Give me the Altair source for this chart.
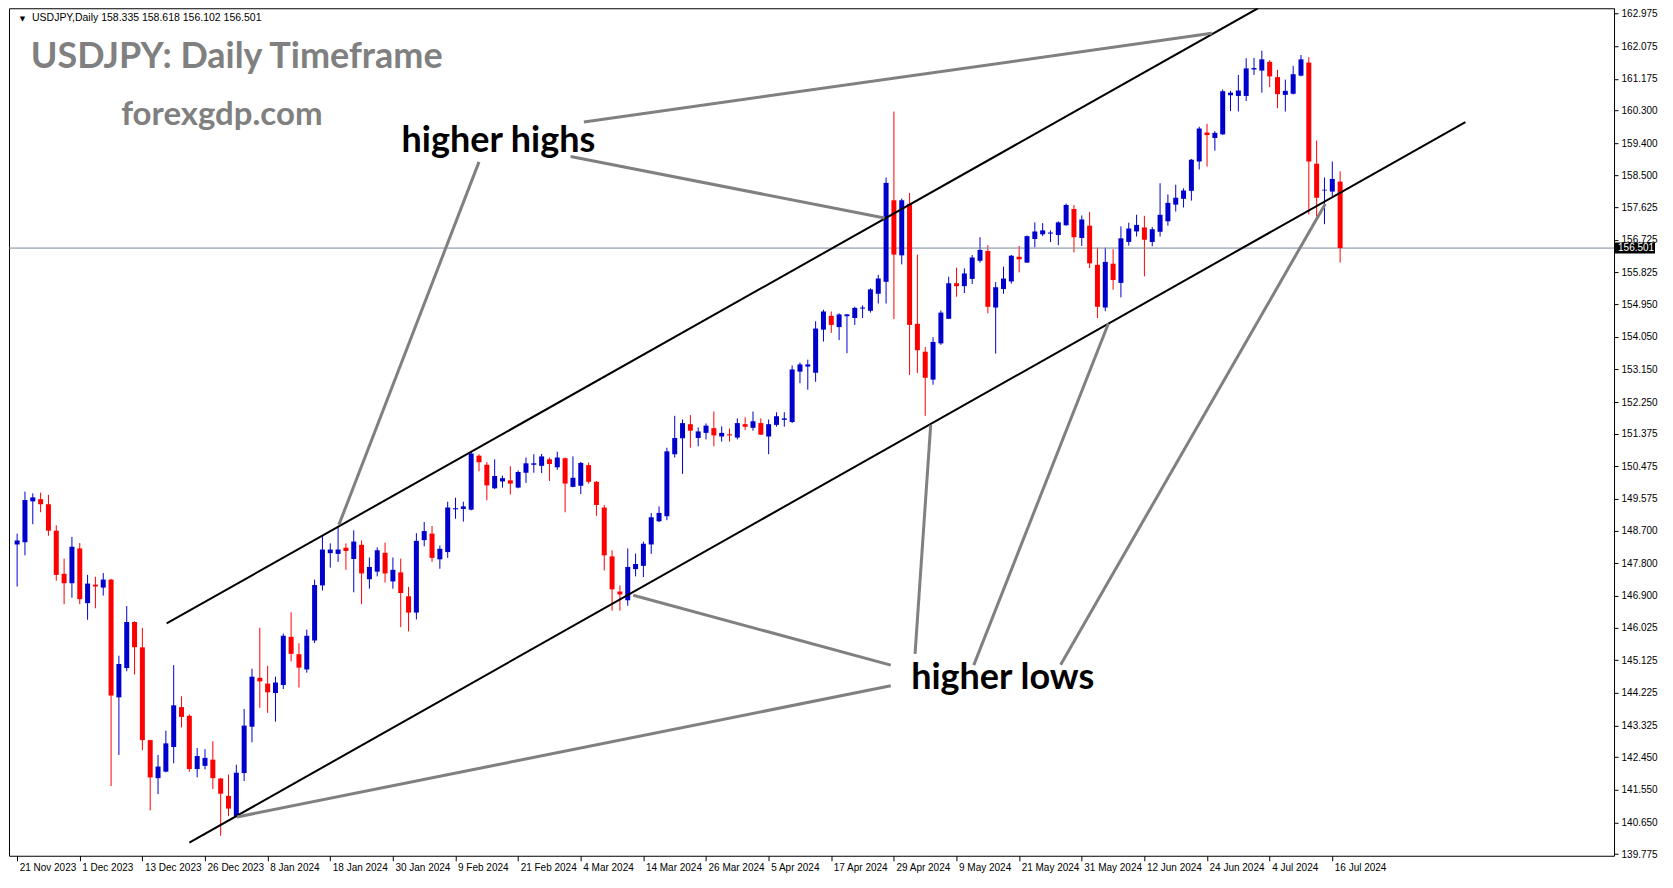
import altair as alt
import pandas as pd

# ---------------- data ----------------
tick_labels = ["21 Nov 2023", "1 Dec 2023", "13 Dec 2023", "26 Dec 2023", "8 Jan 2024",
               "18 Jan 2024", "30 Jan 2024", "9 Feb 2024", "21 Feb 2024", "4 Mar 2024",
               "14 Mar 2024", "26 Mar 2024", "5 Apr 2024", "17 Apr 2024", "29 Apr 2024",
               "9 May 2024", "21 May 2024", "31 May 2024", "12 Jun 2024", "24 Jun 2024",
               "4 Jul 2024", "16 Jul 2024"]
price_ticks = [162.975, 162.075, 161.175, 160.300, 159.400, 158.500, 157.625, 156.725,
               155.825, 154.950, 154.050, 153.150, 152.250, 151.375, 150.475, 149.575,
               148.700, 147.800, 146.900, 146.025, 145.125, 144.225, 143.325, 142.450,
               141.550, 140.650, 139.775]

opens = [148.32, 148.38, 149.51, 149.57, 149.43, 148.70, 147.51, 147.25, 148.21, 146.70,
         147.21, 147.13, 147.35, 144.10, 144.91, 146.18, 145.48, 142.92, 141.87, 142.05,
         142.73, 143.83, 143.59, 142.12, 142.21, 142.38, 141.86, 141.38, 140.82, 142.01,
         143.29, 144.64, 144.48, 144.22, 144.44, 145.77, 145.29, 144.87, 145.67, 147.19,
         148.08, 148.06, 148.23, 147.92, 148.31, 147.36, 147.57, 148.09, 147.30, 147.55,
         146.89, 146.44, 148.44, 148.62, 147.91, 148.11, 149.29, 149.30, 149.28, 150.77,
         150.52, 149.87, 150.06, 150.09, 149.89, 150.30, 150.52, 150.49, 150.67, 150.45,
         150.70, 149.91, 149.94, 150.51, 150.05, 149.34, 147.99, 147.02, 146.78, 147.64,
         147.73, 148.32, 148.96, 149.10, 150.81, 151.25, 151.64, 151.26, 151.40, 151.53,
         151.30, 151.36, 151.27, 151.64, 151.54, 151.67, 151.30, 151.62, 151.76, 151.70,
         153.09, 153.23, 153.06, 154.25, 154.63, 154.32, 154.62, 154.57, 154.83, 154.77,
         155.24, 155.57, 157.82, 156.30, 157.72, 154.41, 153.64, 152.87, 153.87, 154.55,
         155.53, 155.45, 155.65, 156.15, 156.42, 154.86, 155.37, 155.58, 156.26, 156.10,
         156.75, 156.88, 156.90, 156.86, 157.13, 157.58, 156.78, 157.12, 156.04, 154.86,
         156.07, 155.54, 156.67, 156.96, 157.07, 156.67, 156.95, 157.24, 157.70, 157.86,
         158.08, 158.89, 159.69, 159.54, 159.64, 160.72, 160.70, 160.70, 161.43, 161.40,
         161.64, 161.22, 160.73, 160.76, 161.26, 161.62, 158.83, 158.09, 158.06, 158.335]
highs = [148.62, 149.78, 149.73, 149.75, 149.69, 148.85, 147.93, 148.53, 148.36, 147.48,
         147.43, 147.53, 147.37, 145.25, 146.62, 146.20, 146.02, 142.93, 142.51, 143.18,
         144.99, 144.13, 143.63, 142.70, 142.67, 142.89, 141.88, 141.97, 142.24, 143.78,
         144.89, 146.02, 144.97, 144.67, 145.86, 146.45, 145.59, 145.97, 147.35, 148.56,
         148.35, 148.80, 148.35, 148.71, 148.43, 147.96, 148.24, 148.37, 147.96, 147.93,
         147.15, 148.63, 148.94, 148.83, 148.29, 149.50, 149.61, 149.50, 150.90, 150.81,
         150.59, 150.67, 150.22, 150.48, 150.36, 150.72, 150.81, 150.82, 150.72, 150.88,
         150.72, 150.75, 150.60, 150.58, 150.07, 149.41, 148.16, 147.19, 148.21, 148.07,
         148.40, 149.19, 149.37, 150.99, 151.87, 151.77, 151.89, 151.55, 151.66, 151.99,
         151.58, 151.52, 151.80, 151.83, 151.99, 151.80, 151.77, 151.97, 151.97, 153.26,
         153.34, 153.42, 154.48, 154.80, 154.75, 154.70, 154.68, 154.88, 154.92, 155.39,
         155.76, 158.45, 160.27, 157.87, 158.02, 156.32, 153.77, 154.04, 154.78, 155.71,
         155.96, 155.94, 156.31, 156.80, 156.58, 155.56, 155.99, 156.31, 156.56, 156.85,
         157.21, 157.19, 156.99, 157.24, 157.73, 157.69, 157.40, 157.50, 156.51, 156.51,
         156.47, 157.10, 157.20, 157.42, 157.39, 157.08, 158.29, 157.98, 158.25, 158.15,
         158.96, 159.85, 159.93, 159.73, 160.88, 160.84, 161.28, 161.74, 161.75, 161.95,
         161.69, 161.42, 161.15, 161.53, 161.83, 161.77, 159.47, 158.45, 158.89, 158.618]
lows = [147.16, 148.02, 148.88, 149.21, 148.56, 147.32, 146.67, 146.85, 146.67, 146.24,
        146.56, 146.91, 141.65, 142.51, 144.82, 144.73, 142.64, 140.98, 141.43, 142.03,
        142.28, 143.27, 142.05, 141.89, 142.11, 141.57, 140.28, 140.82, 140.79, 141.79,
        142.86, 143.81, 143.67, 143.43, 144.33, 145.09, 144.37, 144.78, 145.60, 147.05,
        147.68, 147.84, 147.62, 147.00, 146.67, 147.10, 147.44, 147.27, 147.10, 146.04,
        145.92, 146.25, 148.27, 147.84, 147.65, 147.95, 149.03, 148.95, 149.26, 150.34,
        149.54, 149.85, 149.89, 149.70, 149.87, 150.02, 150.30, 150.29, 150.07, 150.38,
        149.21, 149.90, 149.71, 150.00, 149.11, 147.60, 146.49, 146.49, 146.63, 147.44,
        147.42, 148.06, 148.94, 148.99, 150.72, 150.27, 150.99, 151.03, 151.22, 151.03,
        151.16, 151.16, 151.22, 151.48, 151.46, 151.34, 150.81, 151.57, 151.57, 151.67,
        152.77, 152.59, 152.81, 153.92, 154.16, 153.96, 153.60, 154.38, 154.57, 154.72,
        154.97, 154.97, 154.54, 156.05, 153.00, 153.05, 151.87, 152.73, 153.83, 154.54,
        155.16, 155.26, 155.51, 156.10, 154.70, 153.59, 155.24, 155.52, 155.83, 156.09,
        156.52, 156.83, 156.67, 156.58, 157.12, 156.38, 156.56, 155.95, 154.57, 154.76,
        155.35, 155.14, 156.57, 156.82, 155.72, 156.55, 156.82, 157.12, 157.51, 157.62,
        157.81, 158.67, 158.75, 159.19, 159.62, 160.28, 160.27, 160.56, 161.28, 160.79,
        160.94, 160.36, 160.27, 160.74, 161.24, 157.43, 157.37, 157.16, 157.94, 156.102]
closes = [148.43, 149.55, 149.62, 149.43, 148.70, 147.48, 147.25, 148.26, 146.81, 147.24,
          147.16, 147.35, 144.15, 145.02, 146.18, 145.48, 142.92, 141.89, 142.19, 142.83,
          143.88, 143.56, 142.12, 142.48, 142.43, 141.87, 141.44, 141.03, 142.02, 143.32,
          144.67, 144.54, 144.24, 144.51, 145.80, 145.30, 144.92, 145.80, 147.20, 148.18,
          148.18, 148.18, 148.14, 148.40, 147.52, 147.70, 148.16, 147.52, 147.62, 146.98,
          146.44, 148.42, 148.69, 147.95, 148.20, 149.34, 149.32, 149.37, 150.83, 150.59,
          149.95, 150.21, 150.15, 150.00, 150.32, 150.56, 150.56, 150.75, 150.54, 150.72,
          150.00, 150.16, 150.57, 150.05, 149.41, 148.02, 147.08, 146.94, 147.70, 147.78,
          148.34, 149.07, 149.19, 150.89, 151.26, 151.67, 151.46, 151.44, 151.60, 151.33,
          151.40, 151.33, 151.67, 151.57, 151.72, 151.35, 151.64, 151.86, 151.80, 153.15,
          153.29, 153.29, 154.28, 154.75, 154.38, 154.67, 154.67, 154.85, 154.86, 155.36,
          155.66, 158.30, 156.32, 157.82, 154.38, 153.68, 152.92, 153.91, 154.72, 155.53,
          155.45, 155.80, 156.24, 156.45, 154.88, 155.42, 155.66, 156.29, 156.19, 156.83,
          156.96, 156.99, 156.93, 157.21, 157.69, 156.80, 157.29, 156.08, 154.88, 156.12,
          155.62, 156.77, 157.04, 157.14, 156.73, 157.02, 157.42, 157.75, 157.89, 158.09,
          158.94, 159.80, 159.62, 159.68, 160.83, 160.79, 160.85, 161.46, 161.47, 161.71,
          161.24, 160.75, 160.84, 161.30, 161.71, 158.89, 157.89, 158.11, 158.41, 156.501]

# channel lines: (bar index, price) end points
upper_channel = [(19.1, 146.14), (158.5, 163.12)]
lower_channel = [(22.0, 140.09), (185.0, 159.98)]
# grey pointer lines from the labels
hh_pointers = [[(72.4, 159.98), (152.6, 162.43)],
               [(70.7, 159.03), (110.8, 157.33)],
               [(59.0, 158.88), (41.1, 148.86)]]
hl_pointers = [[(111.6, 144.42), (28.1, 140.80)],
               [(111.6, 144.99), (78.7, 146.92)],
               [(114.7, 145.30), (116.7, 151.62)],
               [(122.2, 144.99), (139.4, 154.42)],
               [(133.3, 145.00), (167.1, 157.72)]]

# label anchor points (bar index, price)
hh_label = ("higher highs", 49.1, 159.15)
hl_label = ("higher lows", 114.2, 144.32)
title_label = ("USDJPY: Daily Timeframe", 1.75, 161.47)
site_label = ("forexgdp.com", 13.3, 159.91)
header_pos = (1.9, 162.77)
tri_pos = (0.35, 162.77)

# ---------------- build ----------------
W, H = 1606, 848
X_DOM = [-0.4, 203.35]
Y_DOM = [139.728, 163.12]

n = len(closes)
df = pd.DataFrame({
    "bar": list(range(n)),
    "open": opens, "high": highs, "low": lows, "close": closes,
})
df["dir"] = ["up" if c >= o else "down" for o, c in zip(opens, closes)]

xs = alt.Scale(domain=X_DOM, nice=False, zero=False)
ys = alt.Scale(domain=Y_DOM, nice=False, zero=False)

label_arr = "[" + ",".join("'" + s + "'" for s in tick_labels) + "]"
x_axis = alt.Axis(values=list(range(0, 8 * len(tick_labels), 8)),
                  labelExpr=label_arr + "[round(datum.value/8)]",
                  labelAlign="left", labelOffset=2, tickSize=5, grid=False,
                  domain=False, title=None, labelFontSize=10, labelPadding=2,
                  labelOverlap=False, labelFlush=False, labelBound=False,
                  labelFont="Liberation Sans", labelColor="black", tickColor="black")
y_axis = alt.Axis(orient="right", values=price_ticks, format=".3f", tickSize=4,
                  grid=False, domain=False, title=None, labelPadding=3,
                  labelOverlap=False, labelSeparation=0, labelFontSize=10,
                  labelFont="Liberation Sans", labelColor="black", tickColor="black")

color = alt.Color("dir:N", scale=alt.Scale(domain=["up", "down"],
                                           range=["#0000CD", "#FF0000"]), legend=None)


def X(field):
    return alt.X(field, scale=xs, axis=x_axis)


def Y(field):
    return alt.Y(field, scale=ys, axis=y_axis)


wicks = alt.Chart(df).mark_rule(strokeWidth=1).encode(
    x=X("bar:Q"), y=Y("low:Q"), y2="high:Q", color=color,
)
bodies = alt.Chart(df).mark_bar(size=5).encode(
    x=X("bar:Q"), y=Y("open:Q"), y2="close:Q", color=color,
)

last_price = closes[-1]
hline = alt.Chart(pd.DataFrame({"p": [last_price]})).mark_rule(
    color="#778899", strokeWidth=1).encode(y=Y("p:Q"))


def seg_df(segs, prefix):
    rows = []
    for k, seg in enumerate(segs):
        for (b, p) in seg:
            rows.append({"id": f"{prefix}{k}", "bar": b, "price": p})
    return pd.DataFrame(rows)


chan_df = seg_df([upper_channel, lower_channel], "c")
channels = alt.Chart(chan_df).mark_line(color="black", strokeWidth=2, clip=True).encode(
    x=X("bar:Q"), y=Y("price:Q"), detail="id:N")

ptr_df = seg_df(hh_pointers + hl_pointers, "p")
pointers = alt.Chart(ptr_df).mark_line(color="#808080", strokeWidth=3).encode(
    x=X("bar:Q"), y=Y("price:Q"), detail="id:N")


def text_layer(items, **kw):
    d = pd.DataFrame([{"t": t, "bar": b, "price": p} for (t, b, p) in items])
    return alt.Chart(d).mark_text(align="left", baseline="alphabetic", **kw).encode(
        x=X("bar:Q"), y=Y("price:Q"), text="t:N")


labels = text_layer([hh_label, hl_label], font="Lato", fontSize=36,
                    fontWeight="bold", color="black")
title_t = text_layer([title_label], font="Lato", fontSize=36,
                     fontWeight="bold", color="#808080")
site_t = text_layer([site_label], font="Lato", fontSize=33,
                    fontWeight="bold", color="#808080")
header_txt = "USDJPY,Daily  {:.3f} {:.3f} {:.3f} {:.3f}".format(
    opens[-1], highs[-1], lows[-1], closes[-1])
header_t = text_layer([(header_txt, header_pos[0], header_pos[1])],
                      font="Liberation Sans", fontSize=10.5, color="black")
tri_t = text_layer([("\u25BC", tri_pos[0], tri_pos[1])],
                   font="DejaVu Sans", fontSize=7, color="black")

pl_df = pd.DataFrame({"p": [last_price], "t": ["{:.3f}".format(last_price)]})
price_box = alt.Chart(pl_df).mark_rule(color="black", strokeWidth=11).encode(
    x=alt.value(W + 1), x2=alt.value(W + 41), y=Y("p:Q"))
price_txt = alt.Chart(pl_df).mark_text(align="left", baseline="middle", color="white",
                                       font="Liberation Sans", fontSize=10).encode(
    x=alt.value(W + 4), y=Y("p:Q"), text="t:N")

chart = alt.layer(
    wicks, hline, bodies, channels, pointers, labels, title_t, site_t,
    header_t, tri_t, price_box, price_txt
).properties(
    width=W, height=H,
    padding={"left": 0, "top": 0, "right": 4, "bottom": 4},
    background="white",
).configure_view(stroke="black", strokeWidth=1, fill="white"
).configure_axis(labelOverlap=False)

chart.save("out.html", embed_options={"renderer": "svg", "actions": False})
